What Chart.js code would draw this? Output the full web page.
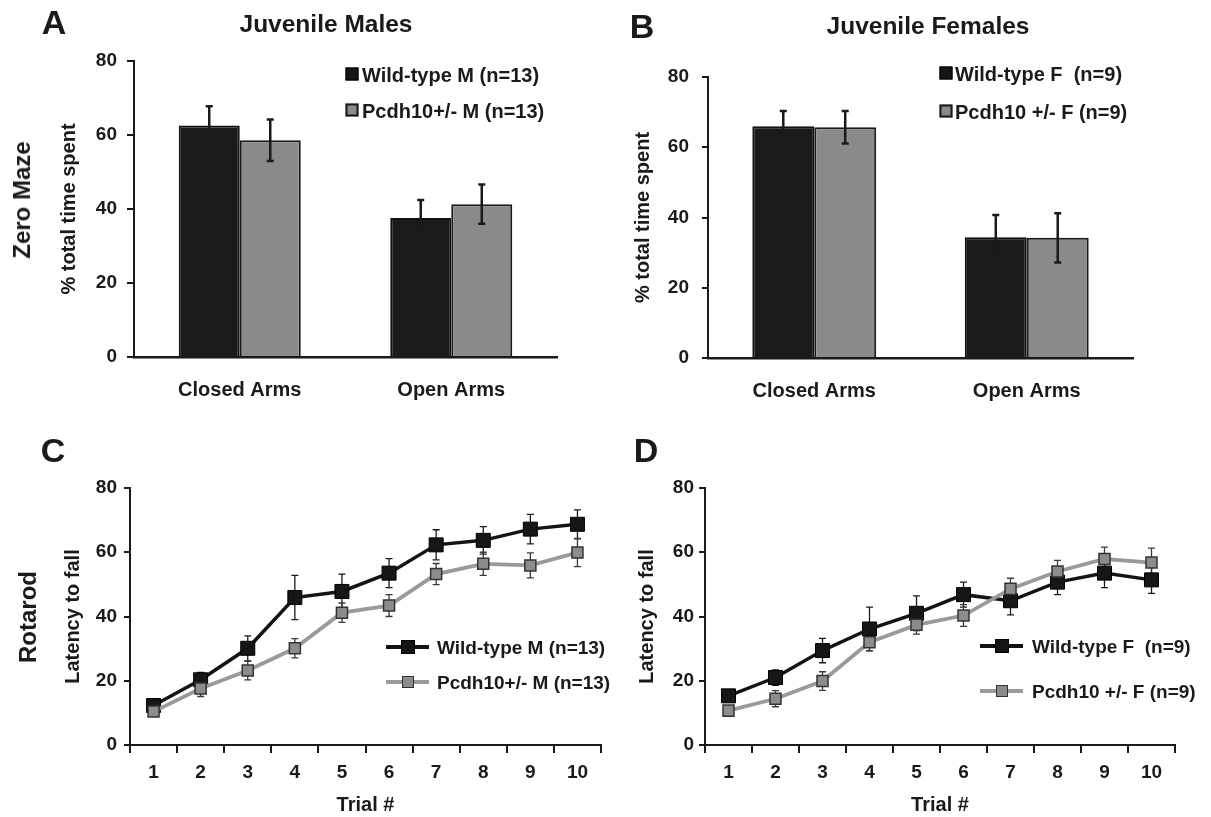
<!DOCTYPE html>
<html><head><meta charset="utf-8">
<script src="https://cdn.jsdelivr.net/npm/chart.js@4/dist/chart.umd.min.js"></script>
<style>
html,body{margin:0;padding:0;background:#fff;}
#wrap{position:relative;width:1211px;height:817px;overflow:hidden;font-family:'Liberation Sans',Arial,Helvetica,sans-serif;font-weight:bold;color:#1a1a1a;}
canvas{position:absolute;left:0;top:0;}
.t{position:absolute;white-space:nowrap;line-height:1;transform:translate(-50%,-50%);}
.l{position:absolute;white-space:nowrap;line-height:1;transform:translate(0,-50%);}
.rot{transform:translate(-50%,-50%) rotate(-90deg);}
.mk{position:absolute;box-sizing:border-box;transform:translate(-50%,-50%);}
.ln{position:absolute;height:4px;transform:translate(0,-50%);}
</style></head><body><div id="wrap">
<canvas id="cA" width="1211" height="817"></canvas>
<canvas id="cB" width="1211" height="817"></canvas>
<canvas id="cC" width="1211" height="817"></canvas>
<canvas id="cD" width="1211" height="817"></canvas>

<div class="t" style="left:54px;top:22px;font-size:34px;">A</div>
<div class="t" style="left:642px;top:26px;font-size:34px;">B</div>
<div class="t" style="left:53px;top:450px;font-size:34px;">C</div>
<div class="t" style="left:646px;top:450px;font-size:34px;">D</div>
<div class="t" style="left:326px;top:24px;font-size:24.5px;">Juvenile Males</div>
<div class="t" style="left:928px;top:26px;font-size:24.5px;">Juvenile Females</div>
<div class="t rot" style="left:22px;top:200px;font-size:24px;">Zero Maze</div>
<div class="t rot" style="left:28px;top:617px;font-size:24px;">Rotarod</div>

<!-- legend A -->
<div class="mk" style="left:352px;top:74px;width:13px;height:13px;background:#151515;border:1px solid #000;"></div>
<div class="l" style="left:362px;top:75px;font-size:20px;">Wild-type M (n=13)</div>
<div class="mk" style="left:352px;top:110px;width:13px;height:13px;background:#8a8a8a;border:2px solid #1a1a1a;"></div>
<div class="l" style="left:362px;top:111px;font-size:20px;">Pcdh10+/- M (n=13)</div>
<!-- legend B -->
<div class="mk" style="left:946px;top:73px;width:13px;height:13px;background:#151515;border:1px solid #000;"></div>
<div class="l" style="left:955px;top:74px;font-size:20px;">Wild-type F&nbsp; (n=9)</div>
<div class="mk" style="left:946px;top:111px;width:13px;height:13px;background:#8a8a8a;border:2px solid #1a1a1a;"></div>
<div class="l" style="left:955px;top:112px;font-size:20px;">Pcdh10 +/- F (n=9)</div>
<!-- legend C -->
<div class="ln" style="left:386px;top:647px;width:43px;background:#111;"></div>
<div class="mk" style="left:408px;top:647px;width:14px;height:14px;background:#151515;border:1px solid #000;"></div>
<div class="l" style="left:437px;top:647px;font-size:19px;">Wild-type M (n=13)</div>
<div class="ln" style="left:386px;top:682px;width:43px;background:#9a9a9a;"></div>
<div class="mk" style="left:408px;top:682px;width:12px;height:12px;background:#8c8c8c;border:1.5px solid #333;"></div>
<div class="l" style="left:437px;top:682px;font-size:19px;">Pcdh10+/- M (n=13)</div>
<!-- legend D -->
<div class="ln" style="left:980px;top:646px;width:43px;background:#111;"></div>
<div class="mk" style="left:1002px;top:646px;width:14px;height:14px;background:#151515;border:1px solid #000;"></div>
<div class="l" style="left:1032px;top:646px;font-size:19px;">Wild-type F&nbsp; (n=9)</div>
<div class="ln" style="left:980px;top:691px;width:43px;background:#9a9a9a;"></div>
<div class="mk" style="left:1002px;top:691px;width:12px;height:12px;background:#8c8c8c;border:1.5px solid #333;"></div>
<div class="l" style="left:1032px;top:691px;font-size:19px;">Pcdh10 +/- F (n=9)</div>
</div>
<script>
// ---------- data ----------
const mazeCategories = ['Closed Arms', 'Open Arms'];
const trialLabels = ['1','2','3','4','5','6','7','8','9','10'];
const yTickStep = 20;
const yMin = 0, yMax = 80;

const maleWT = [62.6, 37.6];
const maleWTErr = [5.2, 4.8];
const maleHet = [58.6, 41.3];
const maleHetErr = [5.6, 5.3];

const femaleWT = [66.0, 34.4];
const femaleWTErr = [4.3, 6.3];
const femaleHet = [65.7, 34.2];
const femaleHetErr = [4.6, 7.0];

const rotaMaleWT = [12.3, 20.3, 30.1, 45.9, 47.8, 53.5, 62.3, 63.7, 67.2, 68.7];
const rotaMaleWTErr = [1.5, 2.3, 3.9, 6.9, 5.4, 4.5, 4.7, 4.3, 4.6, 4.5];
const rotaMaleHet = [10.4, 17.6, 23.2, 30.1, 41.2, 43.4, 53.2, 56.4, 55.9, 59.9];
const rotaMaleHetErr = [1.2, 2.5, 2.9, 3.0, 3.0, 3.4, 3.3, 3.6, 3.9, 4.4];

const rotaFemWT = [15.3, 21.0, 29.4, 36.1, 41.0, 46.8, 44.9, 50.7, 53.5, 51.4];
const rotaFemWTErr = [1.2, 2.4, 3.8, 6.8, 5.4, 3.9, 4.4, 3.9, 4.5, 4.2];
const rotaFemHet = [10.7, 14.4, 19.9, 32.0, 37.4, 40.3, 48.6, 54.0, 57.9, 56.8];
const rotaFemHetErr = [1.0, 2.5, 2.9, 2.6, 2.9, 3.4, 3.3, 3.5, 3.7, 4.5];

// ---------- styling / helpers ----------
const FONT = "'Liberation Sans', Arial, Helvetica, sans-serif";
const INK = '#1a1a1a';

function drawErrors(chart, opts) {
  const ctx = chart.ctx, ys = chart.scales.y;
  chart.data.datasets.forEach((ds, i) => {
    if (!ds.errors) return;
    const meta = chart.getDatasetMeta(i);
    ctx.save();
    ctx.strokeStyle = ds.errColor || INK;
    ctx.lineWidth = opts.width;
    meta.data.forEach((el, j) => {
      const v = ds.data[j], e = ds.errors[j];
      const x = el.x;
      const yt = ys.getPixelForValue(v + e), yb = ys.getPixelForValue(v - e);
      ctx.beginPath();
      ctx.moveTo(x, yt); ctx.lineTo(x, yb);
      ctx.moveTo(x - opts.cap, yt); ctx.lineTo(x + opts.cap, yt);
      ctx.moveTo(x - opts.cap, yb); ctx.lineTo(x + opts.cap, yb);
      ctx.stroke();
    });
    ctx.restore();
  });
}
const errorBars = {
  id: 'errorBars',
  beforeDatasetsDraw(chart, args, opts) { if (opts.phase === 'before') drawErrors(chart, opts); },
  afterDatasetsDraw(chart, args, opts) { if (opts.phase === 'after') drawErrors(chart, opts); }
};

function makeChart(id, type, labels, datasets, g) {
  return new Chart(document.getElementById(id), {
    type: type,
    data: { labels: labels, datasets: datasets },
    plugins: [errorBars],
    options: {
      responsive: false, animation: false, events: [],
      layout: { padding: { left: g.L, top: g.top, right: 1211 - g.right, bottom: 817 - g.xBottom } },
      plugins: {
        legend: { display: false }, tooltip: { enabled: false },
        errorBars: g.err
      },
      scales: {
        x: {
          type: 'category', offset: true,
          grid: g.xGrid,
          border: { display: true, color: INK, width: g.xBorder },
          ticks: { font: { family: FONT, size: g.xFont, weight: 'bold' }, color: INK, padding: g.xPad, autoSkip: false, maxRotation: 0, minRotation: 0 },
          title: g.xTitle ? { display: true, text: g.xTitle, font: { family: FONT, size: 20, weight: 'bold' }, color: INK, padding: { top: 0, bottom: 0 } } : { display: false },
          afterFit(s) { s.height = g.xBottom - g.bottom; }
        },
        y: {
          min: yMin, max: yMax,
          grid: { display: true, drawOnChartArea: false, drawTicks: true, tickLength: g.yTick, color: INK, lineWidth: 2 },
          border: { display: true, color: INK, width: 2 },
          ticks: { stepSize: yTickStep, font: { family: FONT, size: 19, weight: 'bold' }, color: INK, padding: g.yPad },
          title: { display: true, text: g.yTitle, font: { family: FONT, size: g.yTitleSize, weight: 'bold' }, color: INK, padding: { top: 0, bottom: 0 } },
          afterFit(s) { s.width = g.left - g.L; }
        }
      }
    }
  });
}

function barSets(wt, wtErr, het, hetErr, pct) {
  return [
    { label: 'WT', data: wt, errors: wtErr, errColor: INK, backgroundColor: '#1a1a1a', borderColor: '#111', borderWidth: 2, categoryPercentage: pct, barPercentage: 1 },
    { label: 'Het', data: het, errors: hetErr, errColor: INK, backgroundColor: '#8a8a8a', borderColor: '#1a1a1a', borderWidth: 2, categoryPercentage: pct, barPercentage: 1 }
  ];
}
function lineSets(wt, wtErr, het, hetErr) {
  return [
    { label: 'WT', data: wt, errors: wtErr, errColor: '#1a1a1a', order: 2,
      borderColor: '#141414', borderWidth: 3.5, tension: 0,
      pointStyle: 'rect', pointRadius: 9.9, pointBackgroundColor: '#161616', pointBorderColor: '#000', pointBorderWidth: 1 },
    { label: 'Het', data: het, errors: hetErr, errColor: '#3a3a3a', order: 1,
      borderColor: '#9a9a9a', borderWidth: 3.8, tension: 0,
      pointStyle: 'rect', pointRadius: 7.8, pointBackgroundColor: '#8c8c8c', pointBorderColor: '#333', pointBorderWidth: 1.5 }
  ];
}

const barGrid = { display: false, drawTicks: false };
const lineGrid = { display: true, offset: true, drawOnChartArea: false, drawTicks: true, tickLength: 8, color: INK, lineWidth: 2 };

makeChart('cA', 'bar', mazeCategories, barSets(maleWT, maleWTErr, maleHet, maleHetErr, 0.577), {
  L: 57, left: 134, right: 557, top: 61, bottom: 357, xBottom: 412,
  xGrid: barGrid, xBorder: 2.5, xPad: 21, xFont: 20, yTick: 7, yPad: 10,
  yTitle: '% total time spent', yTitleSize: 20, err: { phase: 'after', width: 2.5, cap: 3.5 }
});
makeChart('cB', 'bar', mazeCategories, barSets(femaleWT, femaleWTErr, femaleHet, femaleHetErr, 0.583), {
  L: 631, left: 708, right: 1133, top: 77, bottom: 358, xBottom: 412,
  xGrid: barGrid, xBorder: 2.5, xPad: 21, xFont: 20, yTick: 6, yPad: 13,
  yTitle: '% total time spent', yTitleSize: 20, err: { phase: 'after', width: 2.5, cap: 3.5 }
});
makeChart('cC', 'line', trialLabels, lineSets(rotaMaleWT, rotaMaleWTErr, rotaMaleHet, rotaMaleHetErr), {
  L: 61, left: 130, right: 601, top: 488, bottom: 745, xBottom: 817,
  xGrid: lineGrid, xBorder: 2, xPad: 8, xFont: 19, yTick: 6, yPad: 7, xTitle: 'Trial #',
  yTitle: 'Latency to fall', yTitleSize: 20, err: { phase: 'before', width: 1.3, cap: 3.5 }
});
makeChart('cD', 'line', trialLabels, lineSets(rotaFemWT, rotaFemWTErr, rotaFemHet, rotaFemHetErr), {
  L: 635, left: 705, right: 1175, top: 488, bottom: 745, xBottom: 817,
  xGrid: lineGrid, xBorder: 2, xPad: 8, xFont: 19, yTick: 6, yPad: 5, xTitle: 'Trial #',
  yTitle: 'Latency to fall', yTitleSize: 20, err: { phase: 'before', width: 1.3, cap: 3.5 }
});
</script>
</body></html>
